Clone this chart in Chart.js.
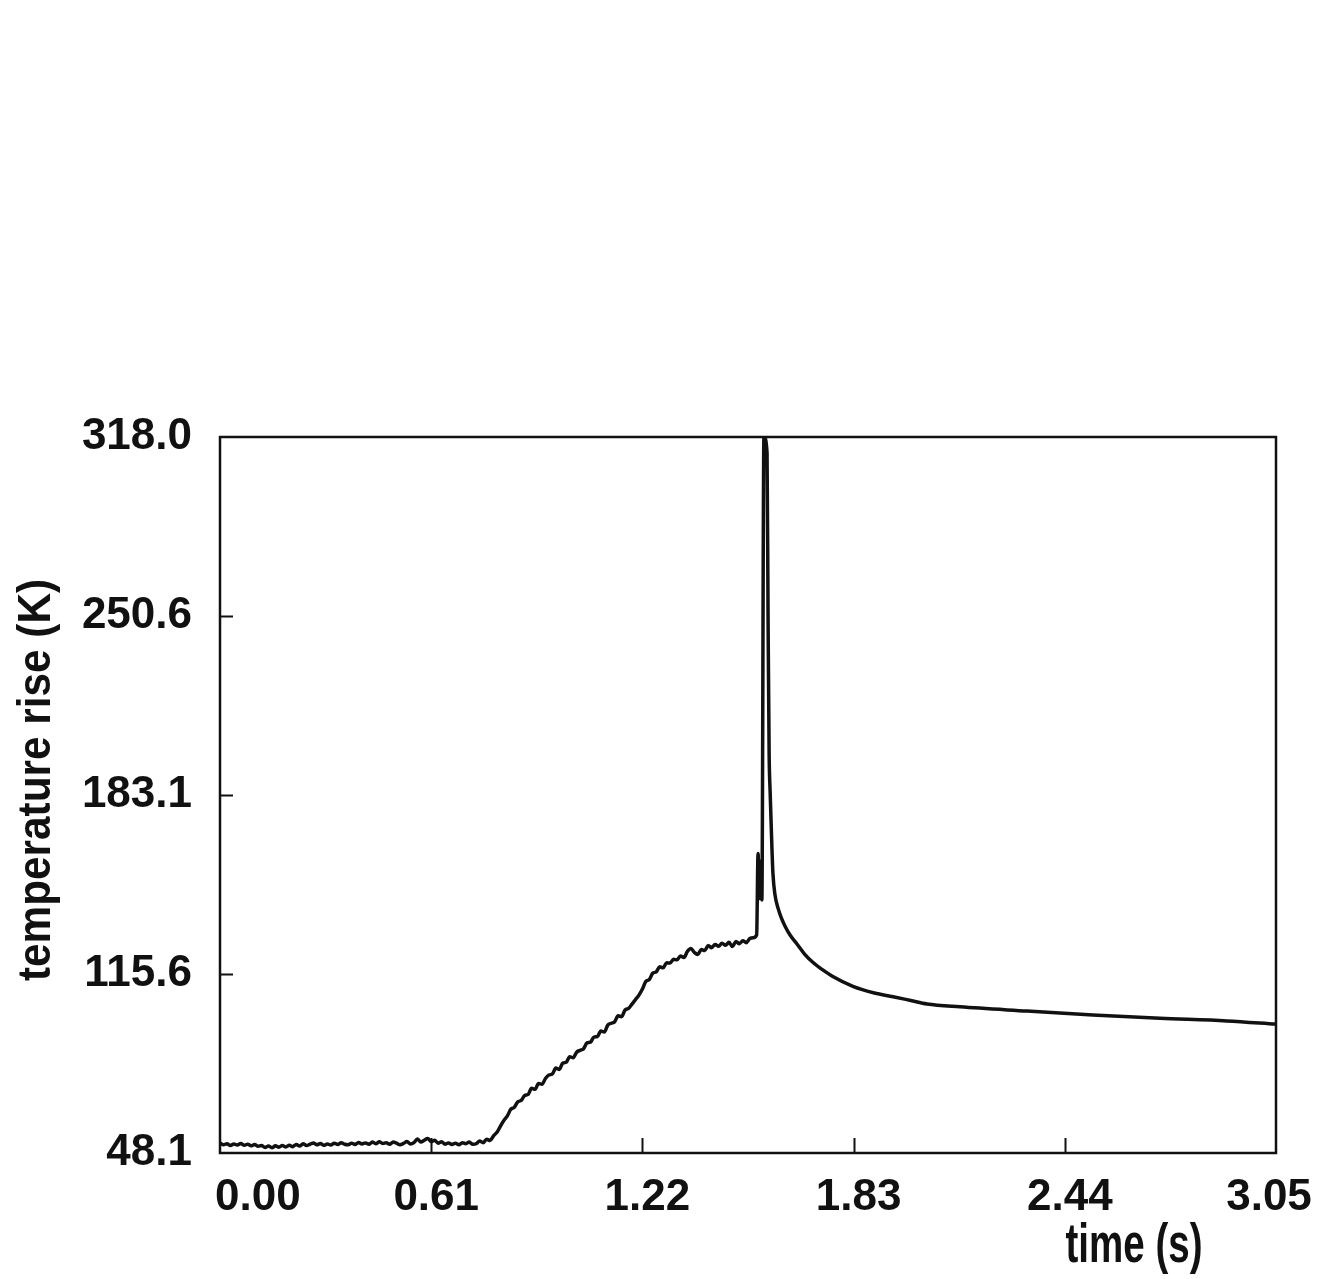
<!DOCTYPE html>
<html>
<head>
<meta charset="utf-8">
<script src="https://cdn.jsdelivr.net/npm/chart.js@4/dist/chart.umd.min.js"></script>
<style>
  html, body { margin: 0; padding: 0; background: #fff; }
  #wrap { width: 1332px; height: 1279px; }
</style>
</head>
<body>
<div id="wrap"><canvas id="c" width="1332" height="1279"></canvas></div>
<script>
// Measured temperature rise of the sample versus time
const timeS = [
  0.00, 0.01, 0.02, 0.03, 0.04, 0.05, 0.06, 0.07, 0.08, 0.09,
  0.10, 0.11, 0.12, 0.13, 0.14, 0.15, 0.16, 0.17, 0.18, 0.19,
  0.20, 0.21, 0.22, 0.23, 0.24, 0.25, 0.26, 0.27, 0.28, 0.29,
  0.30, 0.31, 0.32, 0.33, 0.34, 0.35, 0.36, 0.37, 0.38, 0.39,
  0.40, 0.41, 0.42, 0.43, 0.44, 0.45, 0.46, 0.47, 0.48, 0.49,
  0.50, 0.51, 0.52, 0.53, 0.54, 0.55, 0.56, 0.57, 0.58, 0.59,
  0.60, 0.61, 0.62, 0.63, 0.64, 0.65, 0.66, 0.67, 0.68, 0.69,
  0.70, 0.71, 0.72, 0.73, 0.74, 0.75, 0.76, 0.77, 0.78, 0.79,
  0.80, 0.81, 0.82, 0.83, 0.84, 0.85, 0.86, 0.87, 0.88, 0.89,
  0.90, 0.91, 0.92, 0.93, 0.94, 0.95, 0.96, 0.97, 0.98, 0.99,
  1.00, 1.01, 1.02, 1.03, 1.04, 1.05, 1.06, 1.07, 1.08, 1.09,
  1.10, 1.11, 1.12, 1.13, 1.14, 1.15, 1.16, 1.17, 1.18, 1.19,
  1.20, 1.21, 1.22, 1.23, 1.24, 1.25, 1.26, 1.27, 1.28, 1.29,
  1.30, 1.31, 1.32, 1.33, 1.34, 1.35, 1.36, 1.37, 1.38, 1.39,
  1.40, 1.41, 1.42, 1.43, 1.44, 1.45, 1.46, 1.47, 1.48, 1.49,
  1.50, 1.51, 1.52, 1.53, 1.54, 1.55,
  1.554, 1.558, 1.561, 1.565, 1.571, 1.580, 1.583, 1.586, 1.589, 1.594,
  1.597, 1.603, 1.612, 1.621, 1.632, 1.646, 1.667, 1.689, 1.713, 1.740,
  1.770, 1.828, 1.890, 1.944, 1.995, 2.042, 2.137, 2.331, 2.521, 2.715,
  2.908, 3.05
];

const tempK = [
  51.8, 51.2, 51.6, 50.9, 51.5, 51.1, 51.7, 51.0, 51.4, 50.8,
  51.3, 50.6, 50.9, 50.2, 50.7, 50.1, 50.8, 50.3, 50.9, 50.4,
  51.0, 50.5, 51.3, 50.7, 51.6, 50.9, 51.4, 51.9, 51.2, 51.7,
  51.0, 51.5, 51.1, 51.8, 51.3, 52.0, 51.4, 51.2, 51.8, 51.3,
  52.1, 51.5, 51.9, 51.4, 52.2, 51.6, 52.3, 51.7, 52.0, 51.4,
  52.2, 51.8, 51.2, 51.7, 52.4, 51.5, 52.0, 53.4, 52.2, 52.9,
  53.6, 52.4, 52.9, 51.8, 52.3, 51.4, 51.9, 51.3, 51.8, 51.2,
  52.0, 51.6, 52.2, 51.4, 51.6, 52.6, 52.0, 53.3, 52.8, 54.6,
  55.9, 58.2, 60.4, 62.1, 64.6, 65.3, 67.4, 67.9, 69.8, 70.2,
  72.5, 72.1, 74.3, 74.0, 76.2, 77.5, 77.9, 80.1, 79.6, 82.0,
  82.3, 84.4, 84.0, 86.1, 86.8, 87.4, 89.6, 89.9, 91.8, 92.0,
  94.1, 93.7, 96.3, 97.0, 97.6, 99.8, 99.5, 102.0, 102.6, 104.2,
  105.9, 107.6, 109.9, 112.8, 113.5, 115.9, 116.4, 118.3, 117.9, 119.8,
  119.7, 121.1, 120.9, 122.4, 121.8, 124.1, 125.2, 123.7, 122.9, 124.8,
  124.4, 126.3, 125.5, 126.7, 126.0, 127.2, 126.4, 127.5, 125.9, 127.8,
  127.0, 128.1, 127.4, 128.9, 129.2, 130.3,
  161.0, 144.0, 158.0, 143.5, 318.0, 312.0, 249.0, 199.0, 184.0, 163.5,
  153.5, 145.4, 140.3, 136.8, 133.6, 130.4, 126.8, 123.0, 119.9, 117.2,
  114.6, 110.9, 108.4, 107.0, 105.6, 104.3, 103.2, 101.6, 100.1, 98.9,
  97.9, 96.7
];

const xTickValues = [0, 0.61, 1.22, 1.83, 2.44, 3.05];
const xTickLabels = ['0.00', '0.61', '1.22', '1.83', '2.44', '3.05'];
const yTickValues = [48.1, 115.6, 183.1, 250.6, 318.0];
const yTickLabels = ['48.1', '115.6', '183.1', '250.6', '318.0'];

const xTitle = 'time (s)';
const yTitle = 'temperature rise (K)';

const INK = '#111';
const SANS = '"Liberation Sans", Arial, Helvetica, sans-serif';

// Box frame, inward tick marks, x tick labels and both axis titles
const framePlugin = {
  id: 'frameAndLabels',
  afterDraw(chart) {
    const { ctx, chartArea: a, scales } = chart;
    const xs = scales.x, ys = scales.y;
    ctx.save();
    ctx.strokeStyle = INK;
    ctx.lineWidth = 2.5;
    ctx.strokeRect(a.left, a.top, a.right - a.left, a.bottom - a.top);

    ctx.lineWidth = 2;
    ctx.beginPath();
    xTickValues.forEach((v, i) => {
      if (i === 0 || i === xTickValues.length - 1) return;
      const px = Math.round(xs.getPixelForValue(v)) + 0.5;
      ctx.moveTo(px, a.bottom);
      ctx.lineTo(px, a.bottom - 15);
    });
    yTickValues.forEach((v, i) => {
      if (i === 0 || i === yTickValues.length - 1) return;
      const py = Math.round(ys.getPixelForValue(v)) + 0.5;
      ctx.moveTo(a.left, py);
      ctx.lineTo(a.left + 13, py);
    });
    ctx.stroke();

    ctx.fillStyle = INK;
    ctx.font = 'bold 44px ' + SANS;
    ctx.textBaseline = 'alphabetic';
    const base = a.bottom + 57;
    xTickValues.forEach((v, i) => {
      const px = xs.getPixelForValue(v);
      if (i === 0) {
        ctx.textAlign = 'left';
        ctx.fillText(xTickLabels[i], px - 5, base);
      } else if (i === xTickValues.length - 1) {
        ctx.textAlign = 'center';
        ctx.fillText(xTickLabels[i], px - 7, base);
      } else {
        ctx.textAlign = 'center';
        ctx.fillText(xTickLabels[i], px + 5, base);
      }
    });

    // condensed axis titles
    ctx.textAlign = 'center';
    ctx.save();
    ctx.translate(a.right - 142, a.bottom + 109);
    ctx.scale(0.7, 1);
    ctx.font = 'bold 55px ' + SANS;
    ctx.fillText(xTitle, 0, 0);
    ctx.restore();

    ctx.save();
    ctx.translate(50, (a.top + a.bottom) / 2 - 15);
    ctx.rotate(-Math.PI / 2);
    ctx.scale(0.92, 1);
    ctx.font = 'bold 46px ' + SANS;
    ctx.fillText(yTitle, 0, 0);
    ctx.restore();

    ctx.restore();
  }
};

new Chart(document.getElementById('c'), {
  type: 'line',
  data: {
    datasets: [{
      data: timeS.map((t, i) => ({ x: t, y: tempK[i] })),
      borderColor: INK,
      borderWidth: 3.5,
      pointRadius: 0,
      fill: false,
      cubicInterpolationMode: 'monotone'
    }]
  },
  options: {
    responsive: false,
    animation: false,
    devicePixelRatio: 1,
    layout: { padding: { top: 437, right: 56, bottom: 0, left: 0 } },
    plugins: { legend: { display: false }, tooltip: { enabled: false } },
    scales: {
      x: {
        type: 'linear',
        min: 0,
        max: 3.05,
        afterBuildTicks: s => { s.ticks = xTickValues.map(v => ({ value: v })); },
        afterFit: s => { s.height = 126; },
        ticks: { display: false },
        grid: { display: false },
        border: { display: false }
      },
      y: {
        type: 'linear',
        min: 48.1,
        max: 318.0,
        afterBuildTicks: s => { s.ticks = yTickValues.map(v => ({ value: v })); },
        afterFit: s => { s.width = 220; },
        ticks: {
          callback: (v, i) => yTickLabels[i],
          color: INK,
          padding: 20,
          font: { family: SANS, size: 44, weight: 'bold' }
        },
        grid: { display: false },
        border: { display: false }
      }
    }
  },
  plugins: [framePlugin]
});
</script>
</body>
</html>
